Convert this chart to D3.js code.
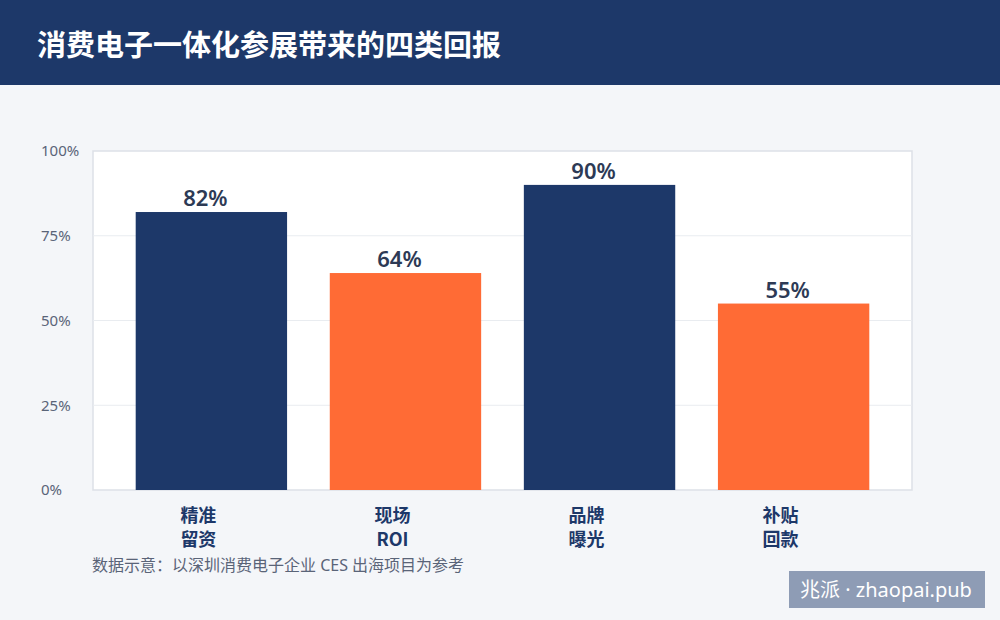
<!DOCTYPE html>
<html>
<head>
<meta charset="utf-8">
<script src="https://cdn.jsdelivr.net/npm/d3@7"></script>
<style>
  body { margin: 0; background: #f4f6f9; }
  svg { display: block; font-family: "Noto Sans", "Noto Sans CJK SC", sans-serif; }
</style>
</head>
<body>
<svg id="chart" width="1000" height="620"></svg>
<script>
var title = "消费电子一体化参展带来的四类回报";
var categories = [["精准", "留资"], ["现场", "ROI"], ["品牌", "曝光"], ["补贴", "回款"]];
var values = [82, 64, 90, 55];
var barColors = ["#1d3869", "#ff6b35", "#1d3869", "#ff6b35"];
var yTicks = [0, 25, 50, 75, 100];
var note = "数据示意：以深圳消费电子企业 CES 出海项目为参考";
var badge = "兆派 · zhaopai.pub";

var svg = d3.select("#chart");

// header band
svg.append("rect").attr("x", 0).attr("y", 0).attr("width", 1000).attr("height", 85)
  .attr("fill", "#1d3869");
svg.append("text").attr("x", 37).attr("y", 56)
  .attr("fill", "#ffffff").attr("font-size", 29).attr("font-weight", 700)
  .attr("font-family", "'Noto Sans CJK SC', sans-serif")
  .text(title);

var plotLeft = 93, plotRight = 912, plotTop = 151, plotBottom = 490;

var xScale = d3.scaleBand().domain(d3.range(values.length))
  .range([plotLeft, plotRight]).padding(0.22);
var yScale = d3.scaleLinear().domain([0, 100]).range([plotBottom, plotTop]);

// plot background
svg.append("rect").attr("x", plotLeft).attr("y", plotTop)
  .attr("width", plotRight - plotLeft).attr("height", plotBottom - plotTop)
  .attr("fill", "#ffffff").attr("stroke", "#dde1e7").attr("stroke-width", 1.5);

// grid lines
svg.append("g").selectAll("line")
  .data(yTicks.filter(function (t) { return t > 0 && t < 100; }))
  .enter().append("line")
  .attr("x1", plotLeft).attr("x2", plotRight)
  .attr("y1", function (t) { return yScale(t); })
  .attr("y2", function (t) { return yScale(t); })
  .attr("stroke", "#e9ecf0").attr("stroke-width", 1);

// y tick labels
svg.append("g").selectAll("text")
  .data(yTicks).enter().append("text")
  .attr("x", 41)
  .attr("y", function (t) { return yScale(t); })
  .attr("dy", "0.35em")
  .attr("fill", "#5a6478").attr("font-size", 15)
  .text(function (t) { return t + "%"; });

// bars
svg.append("g").selectAll("rect")
  .data(values).enter().append("rect")
  .attr("x", function (v, i) { return xScale(i); })
  .attr("y", function (v) { return yScale(v); })
  .attr("width", xScale.bandwidth())
  .attr("height", function (v) { return yScale(0) - yScale(v); })
  .attr("fill", function (v, i) { return barColors[i]; });

// value labels
svg.append("g").selectAll("text")
  .data(values).enter().append("text")
  .attr("x", function (v, i) { return xScale(i) + xScale.bandwidth() / 2 - 6; })
  .attr("y", function (v) { return yScale(v) - 6; })
  .attr("text-anchor", "middle")
  .attr("fill", "#2d3a55").attr("font-size", 22).attr("font-weight", 600)
  .text(function (v) { return v + "%"; });

// category labels (two lines)
var catG = svg.append("g").selectAll("text")
  .data(categories).enter().append("text")
  .attr("text-anchor", "middle")
  .attr("fill", "#1d3869").attr("font-size", 18).attr("font-weight", 700)
  .attr("font-family", "'Noto Sans CJK SC', sans-serif");
catG.each(function (lines, i) {
  var cx = xScale(i) + xScale.bandwidth() / 2 - 13;
  d3.select(this).selectAll("tspan").data(lines).enter().append("tspan")
    .attr("x", cx)
    .attr("y", function (d, j) { return 522 + j * 24; })
    .text(function (d) { return d; });
});

// footnote
svg.append("text").attr("x", 92).attr("y", 571)
  .attr("fill", "#5a6478").attr("font-size", 16)
  .text(note);

// badge
svg.append("rect").attr("x", 789).attr("y", 571).attr("width", 196).attr("height", 37)
  .attr("fill", "#8e9cb5");
svg.append("text").attr("x", 886).attr("y", 597)
  .attr("text-anchor", "middle").attr("fill", "#ffffff").attr("font-size", 20)
  .text(badge);
</script>
</body>
</html>
